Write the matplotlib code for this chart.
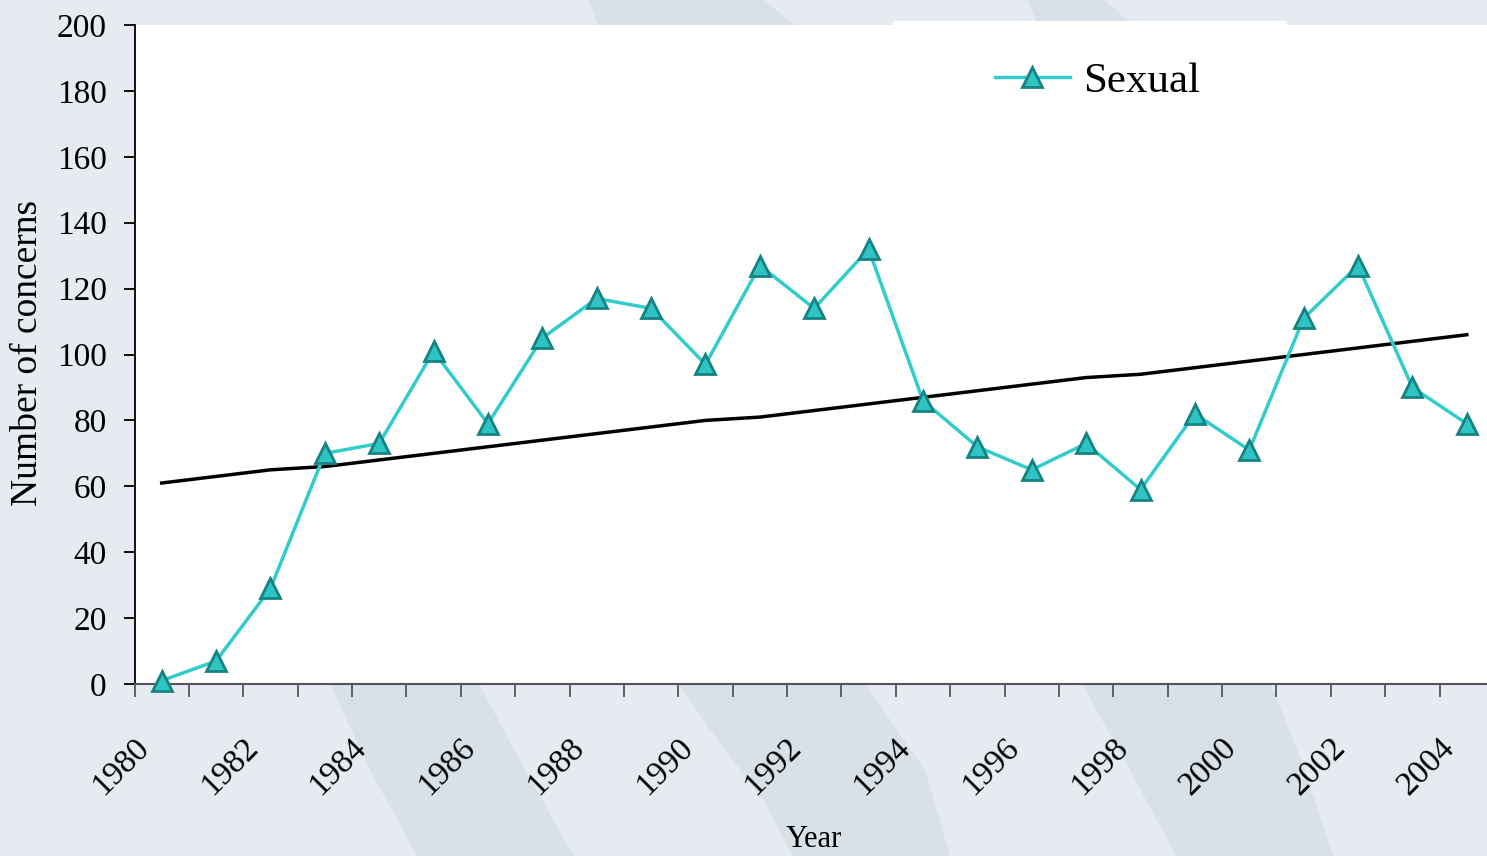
import matplotlib.pyplot as plt
from matplotlib.patches import Polygon, Rectangle
from matplotlib.transforms import ScaledTranslation

plt.rcParams['font.family'] = ['Liberation Serif', 'DejaVu Serif']

years = [str(y) for y in range(1980, 2005)]
sexual = [1, 7, 29, 70, 73, 101, 79, 105, 117, 114, 97, 127, 114, 132,
          86, 72, 65, 73, 59, 82, 71, 111, 127, 90, 79]
trend = [61, 63, 65, 66, 68, 70, 72, 74, 76, 78, 80, 81, 83, 85,
         87, 89, 91, 93, 94, 96, 98, 100, 102, 104, 106]
yticks = [0, 20, 40, 60, 80, 100, 120, 140, 160, 180, 200]

W, H = 1487, 856
fig = plt.figure(figsize=(W / 100, H / 100), dpi=100, facecolor='#E6EBF2')

# background decoration (pixel coords, y from top)
def band(pts):
    xy = [(x / W, 1 - y / H) for x, y in pts]
    fig.patches.append(Polygon(xy, closed=True, transform=fig.transFigure,
                               facecolor='#D9E1E8', edgecolor='none', zorder=0))

band([(330, 684), (370, 770), (417, 856), (574, 856), (525, 770), (479, 684)])
band([(678, 684), (725, 750), (763, 800), (793, 856), (950, 856), (925, 770), (865, 684)])
band([(1082, 684), (1130, 770), (1176, 856), (1333, 856), (1305, 770), (1271, 684)])
band([(588, 0), (600, 30), (800, 30), (764, 0)])
band([(1028, 0), (1039, 30), (1138, 30), (1105, 0)])

x0, x1 = 134.5, 1494
ax = fig.add_axes([x0 / W, (H - 684) / H, (x1 - x0) / W, 659 / H])
ax.set_facecolor('white')
ax.set_zorder(2)

xs = list(range(len(years)))
ax.plot(xs, trend, color='black', lw=2.5, zorder=3)
ax.plot(xs, sexual, color='#33CCCC', lw=2.5, marker='^', markersize=14,
        markerfacecolor='#2EC4C4', markeredgecolor='#178282', markeredgewidth=2,
        label='Sexual', zorder=4, clip_on=False)

ax.set_xlim(-0.5, len(years) - 0.5)
ax.set_ylim(0, 200)
ax.set_yticks(yticks)
ax.tick_params(axis='y', length=8, width=1.3, pad=12, labelsize=24, direction='out')

ax.set_xticks(xs[::2])
ax.set_xticklabels(years[::2], rotation=45, rotation_mode='anchor',
                   ha='center', va='center', fontsize=24)
ax.set_xticks([i - 0.5 for i in range(len(years) + 1)], minor=True)
ax.tick_params(axis='x', which='major', length=0, pad=0)
ax.tick_params(axis='x', which='minor', length=9, width=1.3, color='#555555')
for lab in ax.get_xticklabels():
    lab.set_transform(lab.get_transform() + ScaledTranslation(-0.41, -0.83, fig.dpi_scale_trans))

for s in ['top', 'right']:
    ax.spines[s].set_visible(False)
ax.spines['left'].set_linewidth(1.3)
ax.spines['bottom'].set_linewidth(1.5)
ax.spines['bottom'].set_color('#555555')

ax.set_xlabel('Year', fontsize=22, va='center')
ax.xaxis.set_label_coords(0.5, -0.2367)
ax.set_ylabel('Number of concerns', fontsize=27, va='center', ha='center')
ax.yaxis.set_label_coords(-0.0783, 0.502)

# white legend box sticking above the plot area
fig.patches.append(Rectangle((893 / W, 1 - 32 / H), (1287 - 893) / W, 11 / H,
                             transform=fig.transFigure, facecolor='white',
                             edgecolor='none', zorder=1))

fig.legend(loc='center left', bbox_to_anchor=(995 / W, 1 - 81 / H), frameon=False,
           fontsize=31, handlelength=1.74, handletextpad=0.3, borderpad=0,
           borderaxespad=0)

fig.savefig('out.png', dpi=100, facecolor=fig.get_facecolor())
